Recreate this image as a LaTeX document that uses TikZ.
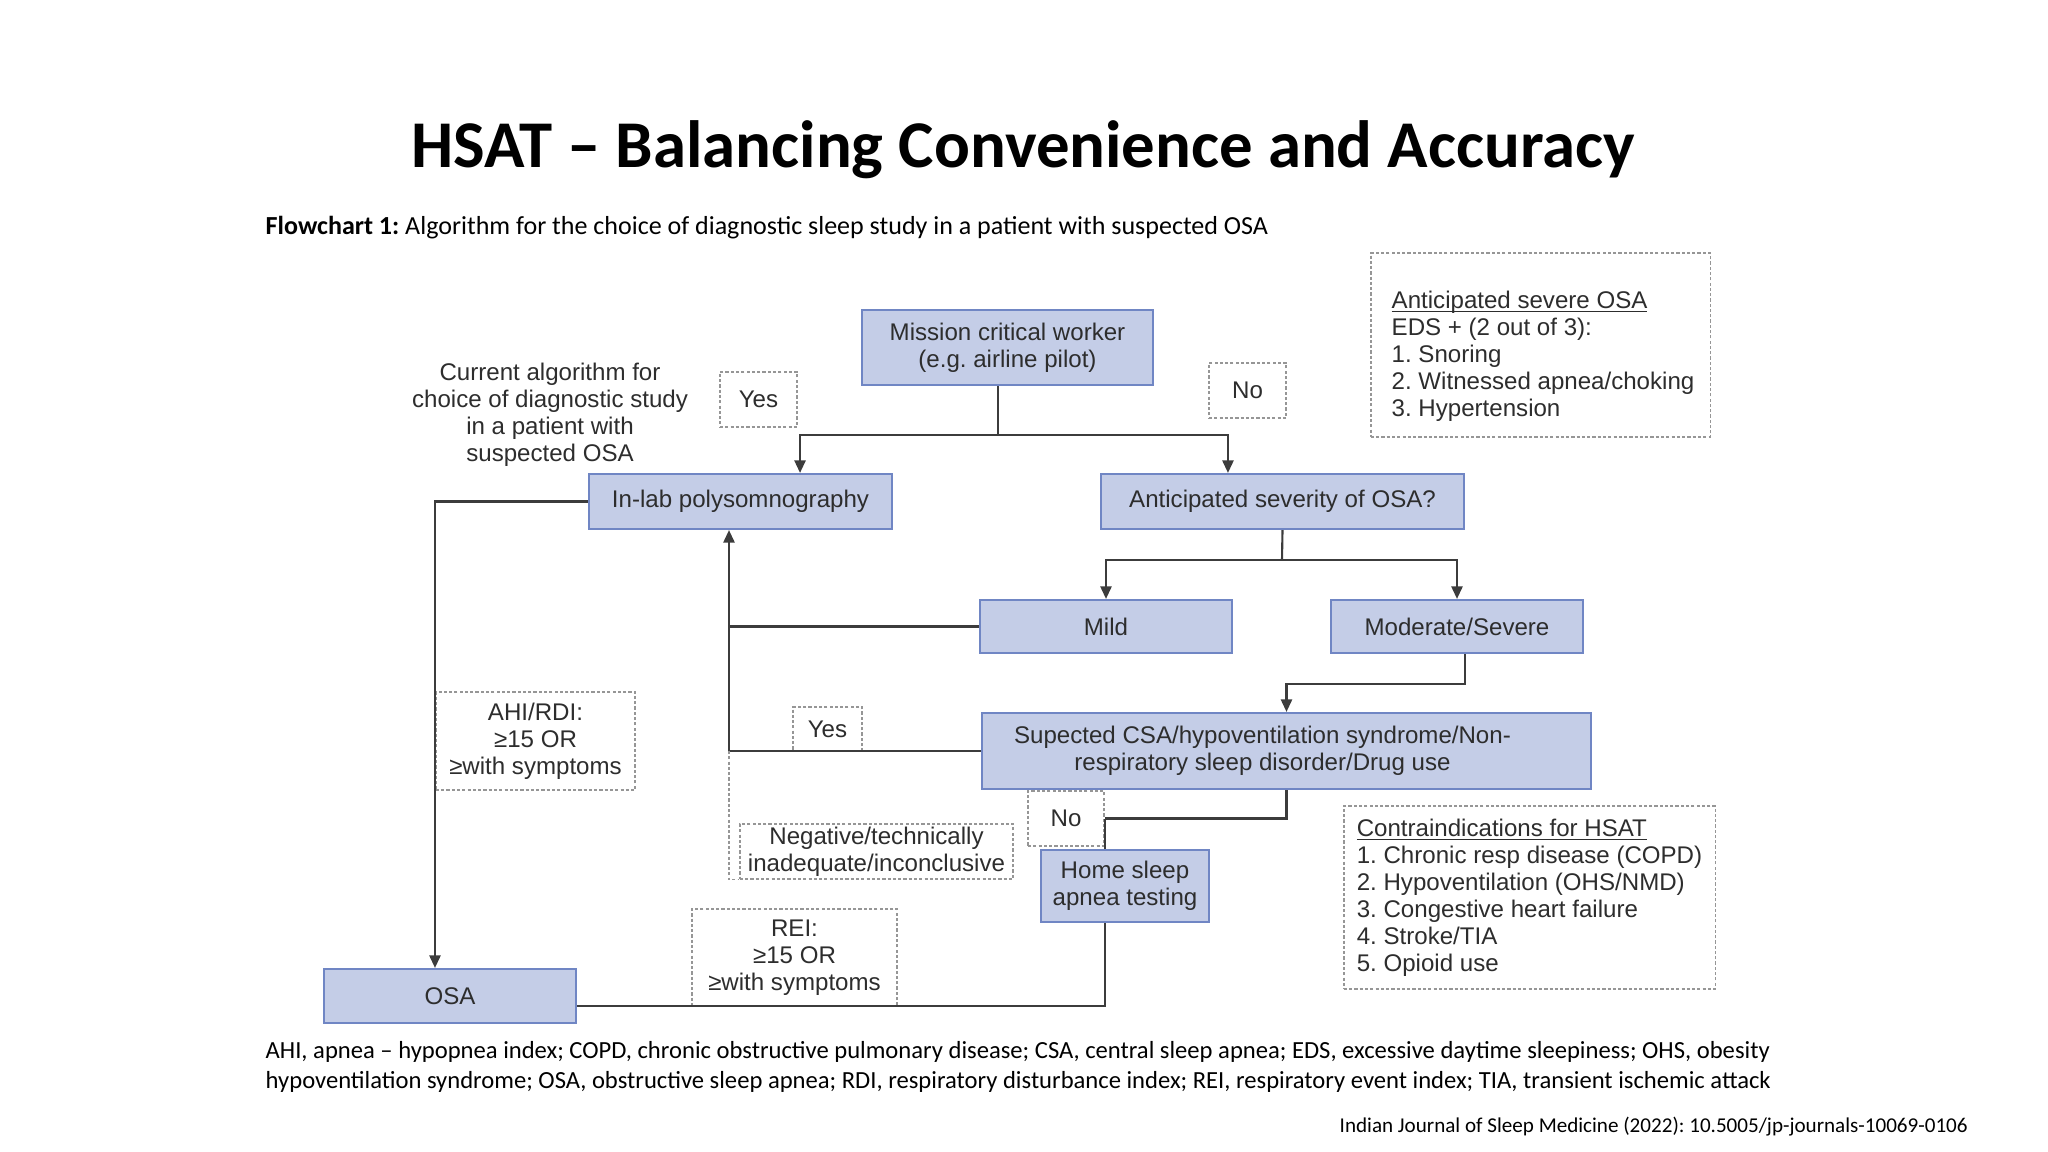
\documentclass[tikz,border=0pt]{standalone}
\usepackage{fontspec}
\setmainfont{Liberation Sans}
\newfontfamily\captionfont{Carlito}
\usepackage{tikz}
\usetikzlibrary{positioning,arrows.meta,calc}
\definecolor{boxfill}{RGB}{196,205,231}
\definecolor{boxline}{RGB}{112,134,196}
\definecolor{linegray}{RGB}{60,60,60}
\definecolor{notegray}{RGB}{150,150,150}
\definecolor{inkgray}{RGB}{45,45,45}
\newcommand{\flowfont}{\fontsize{6.85}{7.7}\selectfont}
\newcommand{\noteline}[1]{\setbox0=\hbox{#1}\rlap{\rule[-1.1pt]{\wd0}{0.35pt}}\box0}
\frenchspacing
\tikzset{
  % blue boxes of the algorithm
  process/.style={
    rectangle, draw=boxline, fill=boxfill, line width=0.6pt,
    font=\flowfont, text=inkgray,
    align=center,
    inner sep=0pt
  },
  % dotted boxes for labels and notes
  note/.style={
    rectangle, draw=notegray, line width=0.35pt,
    dash pattern=on 0.9pt off 0.6pt,
    font=\flowfont, text=inkgray,
    align=center,
    inner sep=0pt
  },
  % connectors
  link/.style={draw=linegray, line width=0.6pt},
  flowarrow/.style={link, -{Triangle[length=3.6pt,width=3.2pt]}},
  dashlink/.style={draw=notegray, line width=0.35pt, dash pattern=on 0.9pt off 0.6pt}
}

\begin{document}
\begin{tikzpicture}[x=0.01cm, y=-0.01cm]
\useasboundingbox (0,0) rectangle (2048,1152);

% Title and caption
\node[font={\captionfont\bfseries\fontsize{19}{23}\selectfont}] (title) at (1023,150) {HSAT – Balancing Convenience and Accuracy};
\node[anchor=west, inner sep=0pt, font={\captionfont\fontsize{7.4}{9}\selectfont}] (caption) at (265,228) {\textbf{Flowchart 1:} Algorithm for the choice of diagnostic sleep study in a patient with suspected OSA};

% Top level - mission critical worker
\node[process, minimum width=2.91cm, minimum height=0.75cm] (mission) at (1007.5,347.5) {Mission critical worker\\(e.g. airline pilot)};
\node[note, minimum width=0.77cm, minimum height=0.55cm] (yestop) at (758.5,399.5) {Yes};
\node[note, minimum width=0.77cm, minimum height=0.55cm] (notop) at (1247.5,390.5) {No};
\node[font=\flowfont, text=inkgray, align=center, inner sep=0pt] (current) at (550,415) {Current algorithm for\\choice of diagnostic study\\in a patient with\\suspected OSA};

% Severe OSA criteria
\node[note, minimum width=3.39cm, minimum height=1.84cm] (severe) at (1540.5,345) {};
\node[font=\flowfont, text=inkgray, align=left, anchor=west, inner sep=0pt] (severetext) at (1391,356) {\noteline{Anticipated severe OSA}\\EDS + (2 out of 3):\\1. Snoring\\2. Witnessed apnea/choking\\3. Hypertension};

% Second level - study choice
\node[process, minimum width=3.03cm, minimum height=0.55cm] (inlab) at (740.5,501.5) {In-lab polysomnography};
\node[process, minimum width=3.63cm, minimum height=0.55cm] (severity) at (1282.5,501.5) {Anticipated severity of OSA?};

% Third level - severity
\node[process, minimum width=2.52cm, minimum height=0.53cm] (mild) at (1106,626.5) {Mild};
\node[process, minimum width=2.52cm, minimum height=0.53cm] (modsev) at (1457,626.5) {Moderate/Severe};

% Fourth level - suspected comorbidity
\node[process, minimum width=6.09cm, minimum height=0.76cm] (suspect) at (1286.5,751) {Supected CSA/hypoventilation syndrome/Non-\hspace*{0.48cm}\\respiratory sleep disorder/Drug use\hspace*{0.48cm}};
\node[note, minimum width=0.69cm, minimum height=0.44cm] (yeslow) at (827.5,729) {Yes};
\node[note, minimum width=0.76cm, minimum height=0.55cm] (nolow) at (1066,818.5) {No};
\node[note, minimum width=2.73cm, minimum height=0.55cm] (negative) at (876.5,851.5) {Negative/technically\\inadequate/inconclusive};

% Home testing and diagnosis
\node[process, minimum width=1.68cm, minimum height=0.72cm] (home) at (1125,886) {Home sleep\\apnea testing};
\node[process, minimum width=2.52cm, minimum height=0.54cm] (osa) at (450,996) {OSA};
\node[note, minimum width=1.99cm, minimum height=0.98cm] (ahi) at (535.5,741) {AHI/RDI:\\≥15 OR\\≥with symptoms};
\node[note, minimum width=2.05cm, minimum height=0.97cm] (rei) at (794.5,957.5) {REI:\\≥15 OR\\≥with symptoms};

% Contraindications
\node[note, minimum width=3.71cm, minimum height=1.83cm, align=left] (contra) at (1529.5,897.5) {\noteline{Contraindications for HSAT}\\1. Chronic resp disease (COPD)\\2. Hypoventilation (OHS/NMD)\\3. Congestive heart failure\\4. Stroke/TIA\\5. Opioid use};

% Branching points
\coordinate (split) at (998,435);
\coordinate (splitsev) at (1282,560);
\coordinate (back) at (729,751);

% Mission critical worker: yes / no
\draw[link] (split |- mission.south) -- (split);
\draw[flowarrow] (split) -| ([xshift=0.595cm]inlab.north);
\draw[flowarrow] (split) -| ([xshift=-0.545cm]severity.north);

% Severity branches
\draw[link] (severity.south) -- (splitsev);
\draw[flowarrow] (splitsev) -| (mild.north);
\draw[flowarrow] (splitsev) -| (modsev.north);
\draw[flowarrow] ([xshift=0.08cm]modsev.south) -- ++(0,30) -| (suspect.north);

% Back to in-lab polysomnography
\draw[link] (mild.west) -- (mild.west -| back);
\draw[link] (suspect.west) -- (back);
\draw[flowarrow] (back) -- (back |- inlab.south);
\draw[dashlink] (back) -- (back |- negative.south) -- (negative.south west);

% In-lab polysomnography to OSA
\draw[flowarrow] (inlab.west) -| ([xshift=-0.15cm]osa.north);

% No suspicion - home testing
\draw[link] (suspect.south) |- (nolow.east);
\draw[link] (nolow.east) -- (nolow.east |- home.north);
\draw[link] ([xshift=-0.2cm]home.south) |- ([yshift=-0.1cm]osa.east);

% Abbreviations and source
\node[anchor=north west, inner sep=0pt, align=left, font={\captionfont\fontsize{7}{8.5}\selectfont}] (abbrev) at (265,1041) {AHI, apnea – hypopnea index; COPD, chronic obstructive pulmonary disease; CSA, central sleep apnea; EDS, excessive daytime sleepiness; OHS, obesity\\hypoventilation syndrome; OSA, obstructive sleep apnea; RDI, respiratory disturbance index; REI, respiratory event index; TIA, transient ischemic attack};
\node[anchor=west, inner sep=0pt, font={\captionfont\fontsize{6.0}{8}\selectfont}] (source) at (1339,1127) {Indian Journal of Sleep Medicine (2022): 10.5005/jp-journals-10069-0106};

\end{tikzpicture}
\end{document}
